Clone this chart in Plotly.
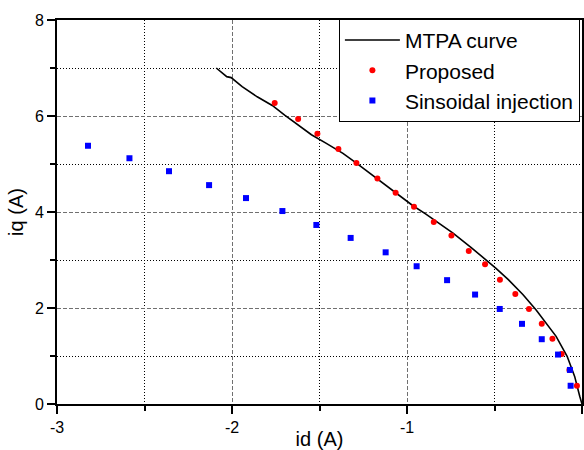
import plotly.graph_objects as go

# MTPA curve
mtpa_id = [-2.09, -2.03, -2.005, -1.942, -1.856, -1.770, -1.699, -1.623, -1.546, -1.461,
           -1.366, -1.289, -1.175, -1.053, -0.966, -0.894, -0.832, -0.737, -0.633, -0.560,
           -0.493, -0.421, -0.338, -0.262, -0.195, -0.148, -0.085, -0.042, -0.013, 0.0]
mtpa_iq = [7.00, 6.82, 6.80, 6.61, 6.40, 6.22, 6.02, 5.81, 5.61, 5.43,
           5.22, 5.02, 4.71, 4.37, 4.13, 3.96, 3.80, 3.56, 3.26, 3.04,
           2.83, 2.59, 2.28, 1.96, 1.65, 1.41, 0.995, 0.575, 0.16, 0.0]

# Proposed
prop_id = [-1.756, -1.622, -1.512, -1.392, -1.289, -1.169, -1.065, -0.960, -0.847, -0.746,
           -0.647, -0.554, -0.469, -0.381, -0.303, -0.230, -0.169, -0.116, -0.072, -0.029]
prop_iq = [6.27, 5.94, 5.63, 5.31, 5.02, 4.70, 4.40, 4.11, 3.79, 3.51,
           3.19, 2.91, 2.59, 2.29, 1.98, 1.67, 1.36, 1.04, 0.71, 0.38]

# Sinsoidal injection
sin_id = [-2.823, -2.586, -2.360, -2.131, -1.920, -1.712, -1.518, -1.322, -1.122, -0.945,
          -0.771, -0.611, -0.470, -0.343, -0.230, -0.137, -0.069, -0.065]
sin_iq = [5.38, 5.12, 4.85, 4.56, 4.29, 4.02, 3.73, 3.46, 3.16, 2.87,
          2.58, 2.28, 1.98, 1.67, 1.35, 1.03, 0.71, 0.38]

x_ticks = [-3, -2, -1, 0]
y_ticks = [0, 2, 4, 6, 8]

FONT = "Liberation Sans, Arial, sans-serif"

fig = go.Figure()
fig.add_trace(go.Scatter(x=mtpa_id, y=mtpa_iq, mode="lines", name="MTPA curve",
                         line=dict(color="black", width=1.6)))
fig.add_trace(go.Scatter(x=prop_id, y=prop_iq, mode="markers", name="Proposed",
                         marker=dict(color="#ff0000", size=6, symbol="circle", line=dict(width=0))))
fig.add_trace(go.Scatter(x=sin_id, y=sin_iq, mode="markers", name="Sinsoidal injection",
                         marker=dict(color="#0000ff", size=6, symbol="square", line=dict(width=0))))

axis_common = dict(
    showline=True, linecolor="black", linewidth=2, mirror=True,
    ticks="outside", ticklen=8, tickwidth=1.5, tickcolor="black",
    showgrid=True, gridcolor="#707070", gridwidth=1, griddash="4px,2px",
    zeroline=False, automargin=False,
    tickfont=dict(family=FONT, size=16, color="black"),
)

fig.update_xaxes(range=[-3, 0], tickvals=x_ticks, ticktext=[str(v) for v in x_ticks],
                 title=dict(text="id (A)", font=dict(family=FONT, size=20, color="black"), standoff=4),
                 minor=dict(dtick=0.5, tick0=0, ticks="outside", ticklen=5, tickcolor="black",
                            showgrid=True, gridcolor="black", gridwidth=1, griddash="1px,2px"),
                 **axis_common)
fig.update_yaxes(range=[0, 8], tickvals=y_ticks, ticktext=[str(v) for v in y_ticks],
                 title=dict(text="iq (A)", font=dict(family=FONT, size=20, color="black"), standoff=6),
                 minor=dict(dtick=1, tick0=0, ticks="outside", ticklen=5, tickcolor="black",
                            showgrid=True, gridcolor="black", gridwidth=1, griddash="1px,2px"),
                 **axis_common)

fig.update_layout(
    width=584, height=450,
    margin=dict(l=57, r=2, t=20, b=46),
    plot_bgcolor="white", paper_bgcolor="white",
    font=dict(family=FONT, color="black"),
    legend=dict(x=0.996, y=1.003, xanchor="right", yanchor="top",
                bgcolor="white", bordercolor="black", borderwidth=1,
                font=dict(family=FONT, size=21, color="black"),
                itemwidth=55, tracegroupgap=0),
    showlegend=True,
)

fig.write_html("out.html")
